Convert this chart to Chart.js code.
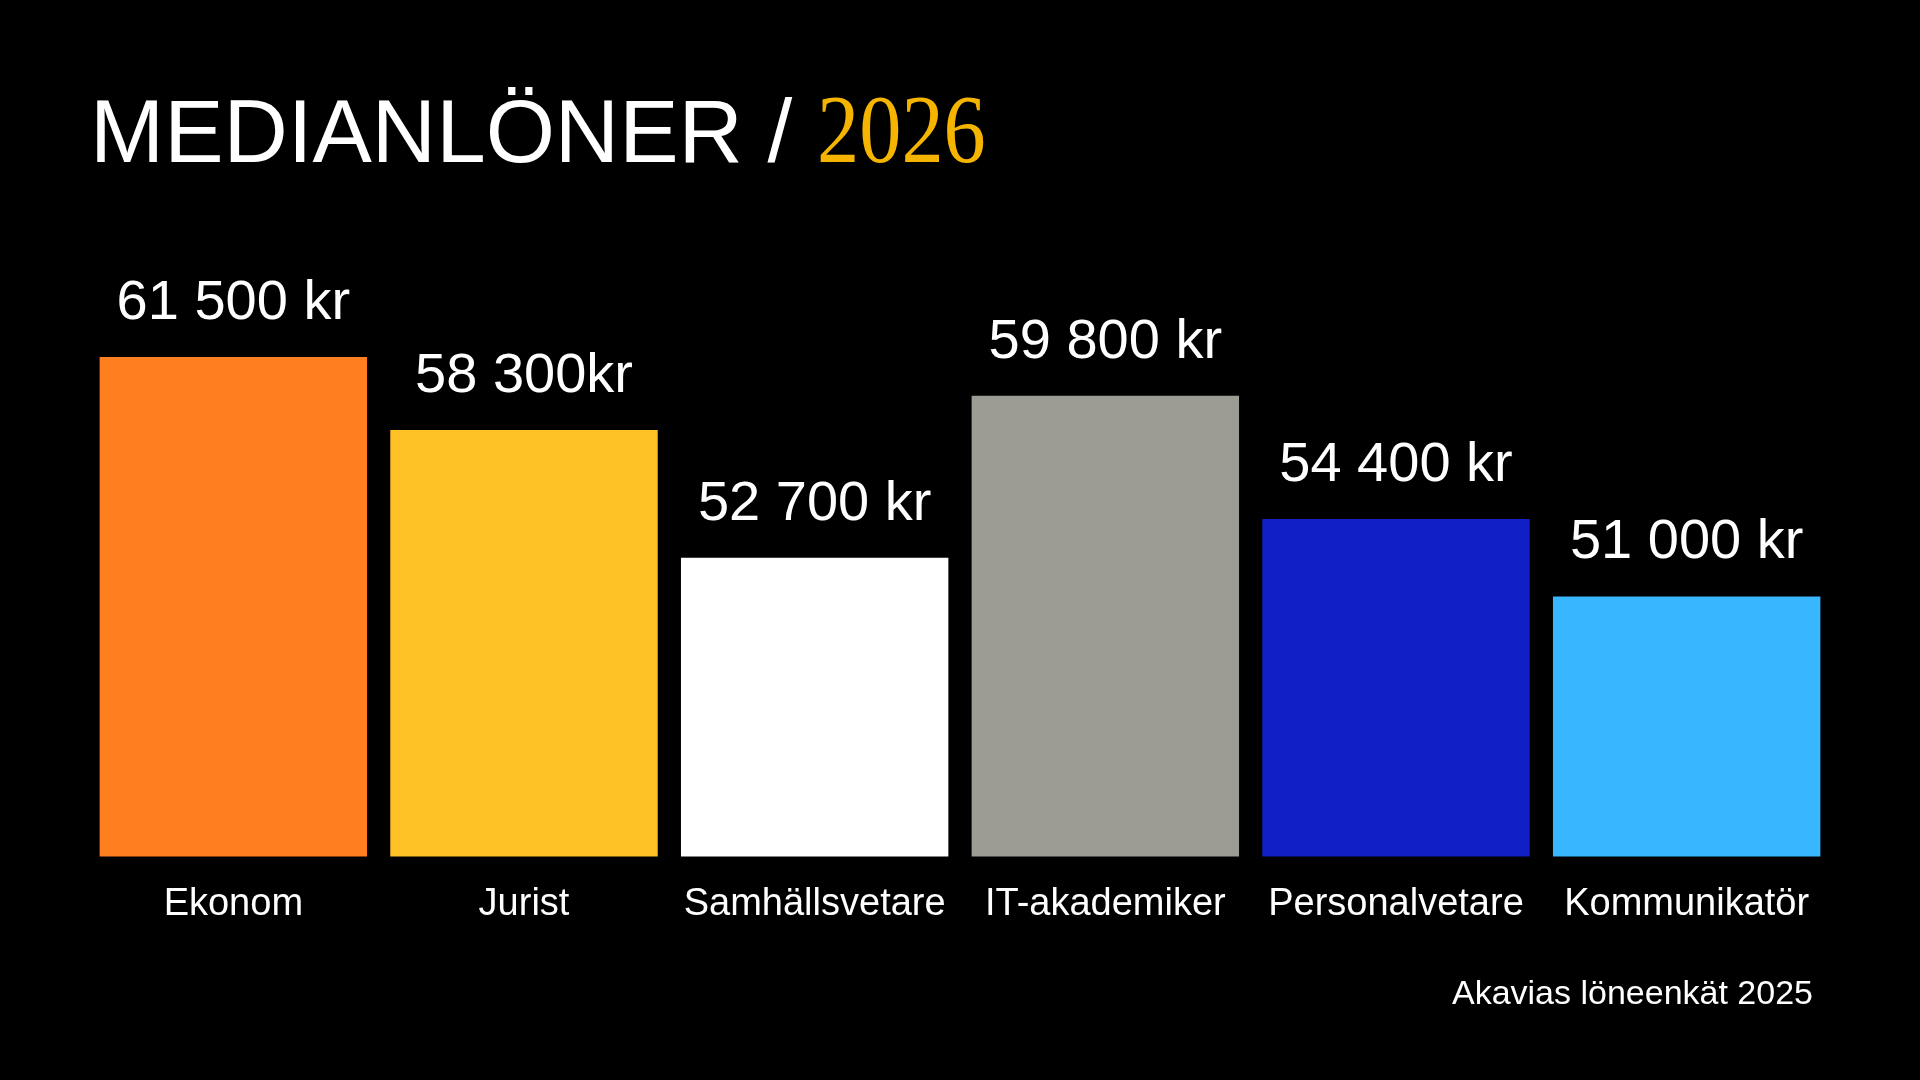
<!DOCTYPE html>
<html lang="sv">
<head>
<meta charset="utf-8">
<title>Medianlöner 2026</title>
<script src="https://cdn.jsdelivr.net/npm/chart.js@4.4.1/dist/chart.umd.min.js"></script>
<style>
    html, body {
        margin: 0;
        padding: 0;
        background: #000;
        width: 1920px;
        height: 1080px;
        overflow: hidden;
    }
    #wrap {
        position: absolute;
        left: 0;
        top: 0;
        width: 1920px;
        height: 1080px;
    }
    h1 {
        position: absolute;
        left: 90px;
        top: 81px;
        margin: 0;
        font-family: "Liberation Sans", Arial, sans-serif;
        font-weight: normal;
        font-size: 89px;
        line-height: 1;
        color: #fff;
        white-space: nowrap;
    }
    h1 .year {
        display: inline-block;
        font-family: "Liberation Serif", "DejaVu Serif", serif;
        font-size: 97px;
        color: #f5b400;
        transform: scaleX(0.87);
        transform-origin: left bottom;
    }
    .source {
        position: absolute;
        right: 107px;
        top: 975px;
        font-family: "Liberation Sans", Arial, sans-serif;
        font-size: 34px;
        line-height: 1;
        color: #fff;
    }
</style>
</head>
<body>
<div id="wrap"><canvas id="salaryChart"></canvas></div>
<h1>MEDIANLÖNER / <span class="year">2026</span></h1>
<div class="source">Akavias löneenkät 2025</div>

<script>
// Data
const categories = ['Ekonom', 'Jurist', 'Samhällsvetare', 'IT-akademiker', 'Personalvetare', 'Kommunikatör'];
const salaries = [61500, 58300, 52700, 59800, 54400, 51000];
const valueLabels = ['61 500 kr', '58 300kr', '52 700 kr', '59 800 kr', '54 400 kr', '51 000 kr'];
const barColors = ['#ff7f20', '#ffc226', '#ffffff', '#9c9c94', '#1020c4', '#38b6ff'];

// Draw the value text above each bar
const valueLabelPlugin = {
    id: 'valueLabels',
    afterDatasetsDraw(chart) {
        const ctx = chart.ctx;
        const meta = chart.getDatasetMeta(0);
        ctx.save();
        ctx.fillStyle = '#ffffff';
        ctx.font = '56px "Liberation Sans", Arial, sans-serif';
        ctx.textAlign = 'center';
        ctx.textBaseline = 'alphabetic';
        meta.data.forEach((bar, i) => {
            ctx.fillText(valueLabels[i], bar.x, bar.y - 38);
        });
        ctx.restore();
    }
};

const canvas = document.getElementById('salaryChart');

new Chart(canvas, {
    type: 'bar',
    data: {
        labels: categories,
        datasets: [{
            data: salaries,
            backgroundColor: barColors,
            borderWidth: 0,
            barPercentage: 0.92,
            categoryPercentage: 1.0
        }]
    },
    options: {
        responsive: true,
        maintainAspectRatio: false,
        animation: false,
        layout: {
            padding: { left: 88, right: 88, top: 300, bottom: 128 }
        },
        plugins: {
            legend: { display: false },
            title: { display: false },
            tooltip: { enabled: false }
        },
        scales: {
            x: {
                grid: { display: false, drawTicks: false },
                border: { display: false },
                ticks: {
                    color: '#ffffff',
                    padding: 25,
                    maxRotation: 0,
                    autoSkip: false,
                    font: { family: '"Liberation Sans", Arial, sans-serif', size: 38 }
                }
            },
            y: {
                display: false,
                min: 39600,
                max: 64000
            }
        }
    },
    plugins: [valueLabelPlugin]
});
</script>
</body>
</html>
